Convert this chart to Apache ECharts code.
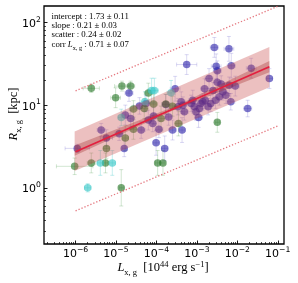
<!DOCTYPE html>
<html><head><meta charset="utf-8">
<script src="https://cdn.jsdelivr.net/npm/echarts@6/dist/echarts.min.js"></script>
<style>html,body{margin:0;padding:0;background:#fff}#c{width:298px;height:283px}</style>
</head><body><div id="c"></div>
<script>
// ---------------- data ----------------
const xTickExp = [-6, -5, -4, -3, -2, -1];
const yTickExp = [0, 1, 2];

// blue sample: L [1e44 erg/s], R [kpc], errors in dex
const blueL = [1.1e-6,4.3e-6,5.8e-6,1.2e-5,1.6e-5,1.7e-5,2.1e-5,2.3e-5,3.8e-5,4.2e-5,6.3e-5,5.5e-5,9.8e-5,1.6e-4,1.15e-4,8.1e-5,8.5e-5,1.7e-4,2.0e-4,2.9e-4,2.5e-4,3.4e-4,4.1e-4,4.3e-4,4.5e-4,5.6e-4,7.2e-4,7.9e-4,8.7e-4,9.5e-4,1.1e-3,1.26e-3,1.4e-3,1.55e-3,1.6e-3,1.9e-3,2.0e-3,2.2e-3,1.15e-3,2.7e-3,3.0e-3,3.2e-3,3.2e-3,4.0e-3,2.5e-3,6.2e-3,7.1e-3,6.9e-3,6.3e-3,8.9e-3,5.2e-3,3.6e-3,1.8e-2,2.2e-2,6.2e-2,2.9e-3,4.4e-3,4.9e-4];
const blueR = [3.0,5.0,4.0,4.5,3.0,7.6,14,6.9,9.8,5.0,6.6,10.5,3.5,3.0,5.1,6.0,7.4,10.2,7.2,15.8,5.0,9.6,11,5.0,10,31,10.5,11.5,9.6,8.3,7.1,10.5,11,15.8,11.5,9.6,21,10.5,9.1,50,29.5,26,19,18,15,48,30,11,17.4,17,13.2,12.6,9.1,28,21,11.5,14.5,8.3];
const blueXErr = [.30,.10,.15,.10,.05,.10,.10,.10,.15,.10,.10,.10,.08,.08,.10,.10,.10,.10,.10,.12,.10,.10,.10,.08,.10,.25,.10,.10,.10,.10,.10,.10,.10,.10,.10,.10,.10,.10,.10,.10,.12,.10,.10,.10,.10,.12,.10,.10,.10,.10,.10,.10,.10,.12,.08,.10,.10,.10];
const blueYErr = [.05,.08,.10,.08,.10,.12,.10,.10,.10,.10,.12,.10,.15,.15,.10,.10,.10,.12,.10,.15,.12,.10,.12,.15,.10,.12,.10,.12,.10,.10,.12,.10,.10,.12,.10,.10,.12,.10,.10,.12,.15,.12,.12,.10,.10,.15,.15,.10,.10,.12,.10,.10,.10,.12,.12,.10,.10,.10];

const greenL = [9.5e-7,2.45e-6,5.5e-6,5.8e-6,2.45e-6,9.8e-6,1.4e-5,2.3e-5,1.7e-5,2.7e-5,2.7e-5,5.0e-5,6.3e-5,8.5e-5,1.3e-4,1.7e-4,1.07e-4,1.45e-4,1.35e-5,3.5e-4,3.2e-3,2.5e-4];
const greenR = [1.82,2.0,2.0,3.0,16,12.3,17,17,4.0,5.1,9.0,9.1,14,10.3,6.9,10.3,2.0,2.0,1.0,6.0,6.2,9.7];
const greenXErr = [.45,.10,.06,.08,.20,.12,.18,.10,.08,.10,.10,.10,.10,.10,.10,.10,.05,.05,.05,.10,.05,.10];
const greenYErr = [.10,.12,.12,.12,.05,.12,.06,.06,.15,.12,.10,.12,.12,.12,.15,.12,.15,.15,.22,.15,.12,.12];

const cyanL = [2.0e-6,4.1e-6,8.1e-6,5.2e-5,7.6e-5,8.9e-5,2.3e-4,1.35e-5];
const cyanR = [1.0,2.0,2.0,11,15,15,14.1,7.1];
const cyanXErr = [.08,.08,.08,.10,.10,.10,.10,.08];
const cyanYErr = [.05,.15,.15,.12,.15,.15,.15,.10];

// fit line, scatter band, fit-uncertainty band, 3-sigma lines
const fitL = [1e-6, 0.062];
const fitR = [2.73, 29.2];
const bandL = [9.5e-7, 0.062];
const bandLo = [1.6, 16.5];
const bandHi = [4.8, 50.5];
const innerL = [9.5e-7, 3e-4, 0.062];
const innerLo = [2.45, 8.95, 25.0];
const innerHi = [3.25, 9.8, 34.3];
const sigL = [1e-6, 0.1];
const sigHiR = [14.9, 157];
const sigLoR = [0.526, 5.6];

const annotLines = ['intercept : 1.73 \u00b1 0.11', 'slope : 0.21 \u00b1 0.03', 'scatter : 0.24 \u00b1 0.02', ': 0.71 \u00b1 0.07'];

// ---------------- chart ----------------
const X_MIN = Math.pow(10, -6.78), X_MAX = Math.pow(10, -0.846);
const Y_MIN = Math.pow(10, -0.68), Y_MAX = Math.pow(10, 2.2);
const xMajor = xTickExp.map(e => Math.pow(10, e));
const yMajor = yTickExp.map(e => Math.pow(10, e));
function minorVals(lo, hi) {
  const out = [];
  for (let e = Math.floor(Math.log10(lo)); e <= Math.ceil(Math.log10(hi)); e++)
    for (let k = 2; k <= 9; k++) { const v = k * Math.pow(10, e); if (v > lo && v < hi) out.push(v); }
  return out;
}
const xMinor = minorVals(X_MIN, X_MAX);
const yMinor = minorVals(Y_MIN, Y_MAX);

function expLabel(v) {
  const e = Math.round(Math.log10(v));
  return '{b|10}{s|' + (e < 0 ? '\u2212' + (-e) : String(e)) + '}';
}
const tickRich = {
  b: {fontSize: 11, fontFamily: 'DejaVu Sans', color: '#000', lineHeight: 14, verticalAlign: 'bottom'},
  s: {fontSize: 7.7, fontFamily: 'DejaVu Sans', color: '#000', lineHeight: 14, verticalAlign: 'top'}
};

function errSeries(L, R, EX, EY, color) {
  return {
    type: 'custom', silent: true, z: 2,
    data: L.map((l, i) => [l, R[i], EX[i], EY[i]]),
    encode: {x: 0, y: 1},
    renderItem(params, api) {
      const l = api.value(0), r = api.value(1);
      const fx = Math.pow(10, api.value(2)), fy = Math.pow(10, api.value(3));
      const p0 = api.coord([l / fx, r]), p1 = api.coord([l * fx, r]);
      const q0 = api.coord([l, r / fy]), q1 = api.coord([l, r * fy]);
      const c = 2, st = {stroke: color, lineWidth: 1};
      return {type: 'group', children: [
        {type: 'line', shape: {x1: p0[0], y1: p0[1], x2: p1[0], y2: p1[1]}, style: st},
        {type: 'line', shape: {x1: q0[0], y1: q0[1], x2: q1[0], y2: q1[1]}, style: st},
        {type: 'line', shape: {x1: p0[0], y1: p0[1] - c, x2: p0[0], y2: p0[1] + c}, style: st},
        {type: 'line', shape: {x1: p1[0], y1: p1[1] - c, x2: p1[0], y2: p1[1] + c}, style: st},
        {type: 'line', shape: {x1: q0[0] - c, y1: q0[1], x2: q0[0] + c, y2: q0[1]}, style: st},
        {type: 'line', shape: {x1: q1[0] - c, y1: q1[1], x2: q1[0] + c, y2: q1[1]}, style: st}
      ]};
    }
  };
}
function scatterSeries(L, R, color) {
  return {type: 'scatter', z: 3, symbol: 'circle', symbolSize: 7.5, silent: true,
    data: L.map((l, i) => [l, R[i]]), itemStyle: {color: color, borderWidth: 0}};
}
function bandSeries(Ls, lo, hi, color, z) {
  return {
    type: 'custom', silent: true, z: z,
    data: Ls.map((l, i) => [l, lo[i], hi[i]]),
    encode: {x: 0, y: [1, 2]},
    renderItem(params, api) {
      if (params.dataIndex !== 0) return null;
      const pts = [];
      for (let i = 0; i < Ls.length; i++) pts.push(api.coord([Ls[i], hi[i]]));
      for (let i = Ls.length - 1; i >= 0; i--) pts.push(api.coord([Ls[i], lo[i]]));
      return {type: 'polygon', shape: {points: pts}, style: {fill: color}};
    }
  };
}
function lineSeries(L, R, style, z) {
  return {type: 'line', z: z, symbol: 'none', silent: true, clip: true,
    data: L.map((l, i) => [l, R[i]]), lineStyle: style};
}

const axisCommon = {type: 'log', logBase: 10, splitLine: {show: false}, minorTick: {show: false}, axisLine: {show: false}};

const option = {
  animation: false,
  backgroundColor: '#fff',
  grid: {left: 44, top: 6, right: 14, bottom: 39, show: true, borderColor: '#000', borderWidth: 1.3, backgroundColor: 'transparent'},
  xAxis: [
    Object.assign({}, axisCommon, {min: X_MIN, max: X_MAX, position: 'bottom',
      axisTick: {show: true, inside: true, length: 3.5, lineStyle: {color: '#000', width: 0.9}, customValues: xMajor},
      axisLabel: {show: true, customValues: xMajor, margin: 2, formatter: expLabel, rich: tickRich}}),
    Object.assign({}, axisCommon, {min: X_MIN, max: X_MAX, position: 'bottom',
      axisTick: {show: true, inside: true, length: 2, lineStyle: {color: '#000', width: 0.7}, customValues: xMinor},
      axisLabel: {show: false}})
  ],
  yAxis: [
    Object.assign({}, axisCommon, {min: Y_MIN, max: Y_MAX, position: 'left',
      axisTick: {show: true, inside: true, length: 3.5, lineStyle: {color: '#000', width: 0.9}, customValues: yMajor},
      axisLabel: {show: true, customValues: yMajor, margin: 3, formatter: expLabel, rich: tickRich}}),
    Object.assign({}, axisCommon, {min: Y_MIN, max: Y_MAX, position: 'left',
      axisTick: {show: true, inside: true, length: 2, lineStyle: {color: '#000', width: 0.7}, customValues: yMinor},
      axisLabel: {show: false}})
  ],
  series: [
    errSeries(blueL, blueR, blueXErr, blueYErr, 'rgba(90,80,200,0.22)'),
    scatterSeries(blueL, blueR, 'rgba(35,25,165,0.74)'),
    errSeries(greenL, greenR, greenXErr, greenYErr, 'rgba(50,140,50,0.22)'),
    scatterSeries(greenL, greenR, 'rgba(35,115,35,0.76)'),
    errSeries(cyanL, cyanR, cyanXErr, cyanYErr, 'rgba(60,200,200,0.3)'),
    scatterSeries(cyanL, cyanR, 'rgba(60,200,200,0.8)'),
    bandSeries(bandL, bandLo, bandHi, 'rgba(200,70,70,0.34)', 4),
    bandSeries(innerL, innerLo, innerHi, 'rgba(160,40,40,0.33)', 4),
    lineSeries(fitL, fitR, {color: '#e3203f', width: 1.8}, 5),
    lineSeries(sigL, sigHiR, {color: 'rgba(225,95,105,0.85)', width: 1.3, type: [1.3, 1.9]}, 5),
    lineSeries(sigL, sigLoR, {color: 'rgba(225,95,105,0.85)', width: 1.3, type: [1.3, 1.9]}, 5)
  ],
  graphic: [
    {type: 'text', x: 51.5, y: 16.3, z: 10, style: {text: annotLines[0], font: '8.8px "Liberation Serif"', fill: '#000', textVerticalAlign: 'middle'}},
    {type: 'text', x: 51.5, y: 25.7, z: 10, style: {text: annotLines[1], font: '8.8px "Liberation Serif"', fill: '#000', textVerticalAlign: 'middle'}},
    {type: 'text', x: 51.5, y: 35.0, z: 10, style: {text: annotLines[2], font: '8.8px "Liberation Serif"', fill: '#000', textVerticalAlign: 'middle'}},
    {type: 'text', x: 51.5, y: 44.5, z: 10, style: {
      text: '{n|corr }{i|L}{sub|x, g}{n| ' + annotLines[3] + '}', textVerticalAlign: 'middle',
      rich: {
        n: {fontSize: 8.8, fontFamily: 'Liberation Serif', color: '#000', lineHeight: 13, verticalAlign: 'middle'},
        i: {fontSize: 8.8, fontFamily: 'Liberation Serif', fontStyle: 'italic', color: '#000', lineHeight: 13, verticalAlign: 'middle'},
        sub: {fontSize: 6.2, fontFamily: 'Liberation Serif', color: '#000', lineHeight: 13, verticalAlign: 'bottom'}
      }}},
    {type: 'text', x: 163, y: 268, z: 10, style: {
      text: '{i|L}{sub|x, g}{n|  [10}{sup|44}{n| erg s}{sup|\u22121}{n|]}', textAlign: 'center', textVerticalAlign: 'middle',
      rich: {
        n: {fontSize: 12.5, fontFamily: 'Liberation Serif', color: '#000', lineHeight: 18, verticalAlign: 'middle'},
        i: {fontSize: 12.5, fontFamily: 'Liberation Serif', fontStyle: 'italic', color: '#000', lineHeight: 18, verticalAlign: 'middle'},
        sub: {fontSize: 8.5, fontFamily: 'Liberation Serif', color: '#000', lineHeight: 18, verticalAlign: 'bottom'},
        sup: {fontSize: 8.5, fontFamily: 'Liberation Serif', color: '#000', lineHeight: 18, verticalAlign: 'top', padding: [1, 0, 0, 0]}
      }}},
    {type: 'text', x: 14, y: 114, rotation: Math.PI / 2, z: 10, style: {
      text: '{i|R}{sub|x, g}{n|  [kpc]}', textAlign: 'center', textVerticalAlign: 'middle',
      rich: {
        n: {fontSize: 12.5, fontFamily: 'Liberation Serif', color: '#000', lineHeight: 18, verticalAlign: 'middle'},
        i: {fontSize: 12.5, fontFamily: 'Liberation Serif', fontStyle: 'italic', color: '#000', lineHeight: 18, verticalAlign: 'middle'},
        sub: {fontSize: 8.5, fontFamily: 'Liberation Serif', color: '#000', lineHeight: 18, verticalAlign: 'bottom'}
      }}}
  ]
};
const chart = echarts.init(document.getElementById('c'), null, {renderer: 'canvas'});
chart.setOption(option);
</script>
</body></html>
